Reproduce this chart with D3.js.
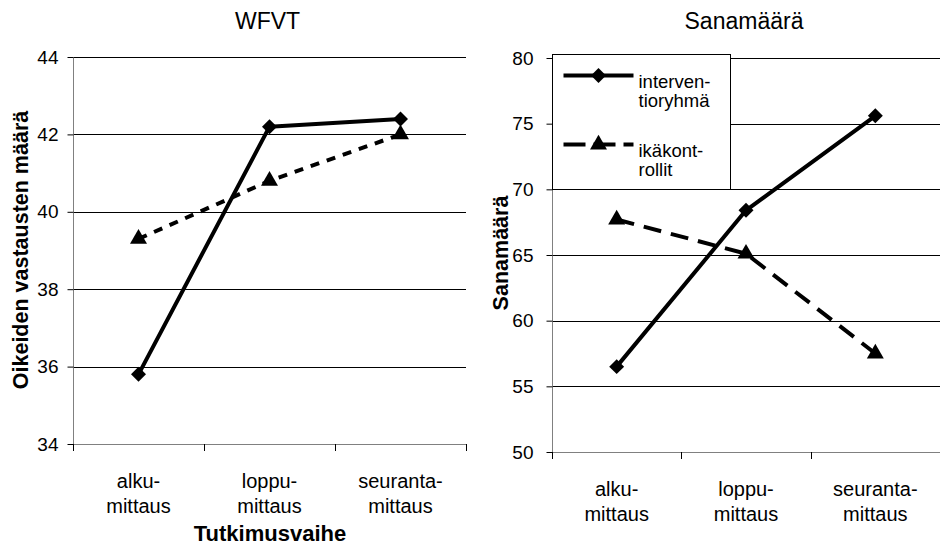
<!DOCTYPE html>
<html>
<head>
<meta charset="utf-8">
<script src="https://cdn.jsdelivr.net/npm/d3@7"></script>
<style>
  html, body { margin: 0; padding: 0; background: #fff; }
  svg { display: block; font-family: "Liberation Sans", Arial, sans-serif; }
</style>
</head>
<body>
<svg id="chart" width="940" height="545"></svg>
<script>
// Measurement phases (two-line category labels)
const phases = [["alku-", "mittaus"], ["loppu-", "mittaus"], ["seuranta-", "mittaus"]];
const phaseKeys = ["alku", "loppu", "seuranta"];

// WFVT: correct answers
const wfvtIntervention = [35.8, 42.2, 42.4];
const wfvtControl = [39.3, 40.8, 42.0];
const wfvtTicks = [34, 36, 38, 40, 42, 44];

// Word count
const wordIntervention = [56.5, 68.4, 75.6];
const wordControl = [67.7, 65.1, 57.5];
const wordTicks = [50, 55, 60, 65, 70, 75, 80];

const seriesNames = [["interven-", "tioryhmä"], ["ikäkont-", "rollit"]];

const svg = d3.select("#chart");

function panel(opts) {
  const g = svg.append("g");
  const x = d3.scaleBand().domain(phaseKeys).range([opts.x0, opts.x1]);
  const y = d3.scaleLinear().domain(opts.domain).range([opts.y1, opts.y0]);

  // horizontal gridlines
  g.append("g").selectAll("line").data(opts.ticks).join("line")
    .attr("x1", opts.x0).attr("x2", opts.x1)
    .attr("y1", d => Math.round(y(d)) + 0.5).attr("y2", d => Math.round(y(d)) + 0.5)
    .attr("stroke", d => d === opts.domain[0] ? "#808080" : "#000")
    .attr("stroke-width", 1);

  // y axis
  const ya = g.append("g").attr("transform", `translate(${opts.x0 + 0.5},0)`)
    .call(d3.axisLeft(y).tickValues(opts.ticks).tickSize(6).tickPadding(opts.pad));
  ya.select(".domain").attr("stroke", "#808080").attr("d", `M-0,${opts.y0}V${opts.y1 + 6}`);
  ya.selectAll(".tick line").attr("stroke", "#000");
  ya.selectAll(".tick text").attr("font-size", 19).attr("fill", "#000")
    .attr("font-family", "Liberation Sans, Arial, sans-serif");

  // x axis ticks at band boundaries
  const bounds = phaseKeys.map(k => x(k)).concat([opts.x1]);
  g.append("g").selectAll("line").data(bounds).join("line")
    .attr("x1", d => Math.round(d) + 0.5).attr("x2", d => Math.round(d) + 0.5)
    .attr("y1", opts.y1).attr("y2", opts.y1 + 7)
    .attr("stroke", "#000");

  // category labels
  const cl = g.append("g").selectAll("text").data(phases).join("text")
    .attr("x", (d, i) => x(phaseKeys[i]) + x.bandwidth() / 2)
    .attr("y", opts.y1 + 44)
    .attr("text-anchor", "middle").attr("font-size", 20).attr("fill", "#000");
  cl.append("tspan").attr("x", (d, i) => x(phaseKeys[i]) + x.bandwidth() / 2).text(d => d[0]);
  cl.append("tspan").attr("x", (d, i) => x(phaseKeys[i]) + x.bandwidth() / 2).attr("dy", 25).text(d => d[1]);

  // title
  g.append("text").attr("x", (opts.x0 + opts.x1) / 2 - 2).attr("y", 29)
    .attr("text-anchor", "middle").attr("font-size", 23).text(opts.title);

  // y title
  g.append("text")
    .attr("transform", `translate(${opts.yTitleX},${opts.yTitleY}) rotate(-90)`)
    .attr("text-anchor", "middle").attr("font-size", 21.5).attr("font-weight", "bold")
    .text(opts.yTitle);

  const line = d3.line().x((d, i) => x(phaseKeys[i]) + x.bandwidth() / 2).y(d => y(d));

  // control series (dashed, triangles)
  g.append("path").datum(opts.control).attr("d", line)
    .attr("fill", "none").attr("stroke", "#000").attr("stroke-width", 4)
    .attr("stroke-dasharray", opts.dash);
  // intervention series (solid, diamonds)
  g.append("path").datum(opts.intervention).attr("d", line)
    .attr("fill", "none").attr("stroke", "#000").attr("stroke-width", 4)
    .attr("stroke-linejoin", "round");

  const tri = d3.symbol().type(d3.symbolTriangle).size(125);
  const dia = d3.symbol().type(d3.symbolSquare).size(112);
  g.append("g").selectAll("path").data(opts.control).join("path")
    .attr("d", tri)
    .attr("transform", (d, i) => `translate(${x(phaseKeys[i]) + x.bandwidth() / 2},${y(d)})`)
    .attr("fill", "#000");
  g.append("g").selectAll("path").data(opts.intervention).join("path")
    .attr("d", dia)
    .attr("transform", (d, i) => `translate(${x(phaseKeys[i]) + x.bandwidth() / 2},${y(d)}) rotate(45)`)
    .attr("fill", "#000");

  return { g, x, y };
}

const left = panel({
  x0: 73, x1: 466, y0: 57, y1: 444, domain: [34, 44], ticks: wfvtTicks, pad: 9,
  title: "WFVT", yTitle: "Oikeiden vastausten määrä", yTitleX: 28, yTitleY: 250,
  intervention: wfvtIntervention, control: wfvtControl, dash: "9,8"
});
left.g.append("text").attr("x", 270).attr("y", 541).attr("text-anchor", "middle")
  .attr("font-size", 22).attr("font-weight", "bold").text("Tutkimusvaihe");

const right = panel({
  x0: 552, x1: 940, y0: 58, y1: 452, domain: [50, 80], ticks: wordTicks, pad: 13,
  title: "Sanamäärä", yTitle: "Sanamäärä", yTitleX: 508, yTitleY: 253,
  intervention: wordIntervention, control: wordControl, dash: "18,10"
});

// legend
const lg = svg.append("g").attr("transform", "translate(552.5,54.5)");
lg.append("rect").attr("width", 178).attr("height", 135)
  .attr("fill", "#fff").attr("stroke", "#000").attr("stroke-width", 1);
const entries = [
  { name: seriesNames[0], dash: null, sym: "diamond", y: 21 },
  { name: seriesNames[1], dash: "18,10", sym: "triangle", y: 90 }
];
entries.forEach(e => {
  const ln = lg.append("line").attr("x1", 11).attr("x2", 81).attr("y1", e.y).attr("y2", e.y)
    .attr("stroke", "#000").attr("stroke-width", 4);
  if (e.dash) ln.attr("stroke-dasharray", "22,8");
  if (e.sym === "diamond") {
    lg.append("path").attr("d", d3.symbol().type(d3.symbolSquare).size(112))
      .attr("transform", `translate(46,${e.y}) rotate(45)`).attr("fill", "#000");
  } else {
    lg.append("path").attr("d", d3.symbol().type(d3.symbolTriangle).size(125))
      .attr("transform", `translate(46,${e.y})`).attr("fill", "#000");
  }
  // each wrapped line of the series name is its own text element
  e.name.forEach((part, k) => {
    lg.append("text").attr("x", 86).attr("y", e.y + 12 + k * 19)
      .attr("font-size", 18.5).text(part);
  });
});
</script>
</body>
</html>
